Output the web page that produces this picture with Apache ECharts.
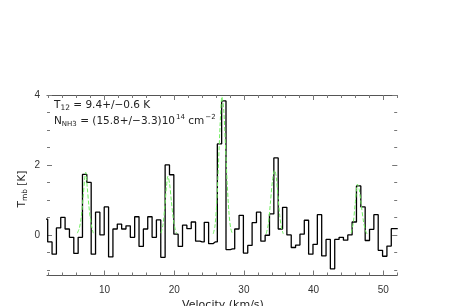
<!DOCTYPE html>
<html>
<head>
<meta charset="utf-8">
<script src="https://cdn.jsdelivr.net/npm/echarts@6/dist/echarts.min.js"></script>
<style>
html,body{margin:0;padding:0;background:#fff;}
#chart{width:463px;height:306px;}
</style>
</head>
<body>
<div id="chart"></div>
<script>
// Channel velocities (km/s) and antenna temperatures (K)
const velocity = [1.54,2.16,2.79,3.41,4.03,4.66,5.28,5.91,6.53,7.15,7.78,8.40,9.03,9.65,10.27,10.90,11.52,12.15,12.77,13.39,14.02,14.64,15.27,15.89,16.52,17.14,17.76,18.39,19.01,19.64,20.26,20.88,21.51,22.13,22.76,23.38,24.00,24.63,25.25,25.88,26.50,27.12,27.75,28.37,29.00,29.62,30.24,30.87,31.49,32.12,32.74,33.36,33.99,34.61,35.24,35.86,36.48,37.11,37.73,38.36,38.98,39.60,40.23,40.85,41.48,42.10,42.72,43.35,43.97,44.60,45.22,45.84,46.47,47.09,47.72,48.34,48.96,49.59,50.21,50.84,51.46,52.08];
const temperature = [0.45,-0.2,-0.55,0.2,0.5,0.17,-0.07,-0.53,-0.07,1.73,1.5,-0.55,0.65,0.0,0.8,-0.63,0.17,0.31,0.17,0.26,-0.07,0.52,-0.33,0.17,0.52,-0.07,0.43,-0.64,2.0,1.72,0.02,-0.33,0.28,0.18,0.37,-0.18,-0.2,0.36,-0.25,-0.2,2.6,3.83,-0.42,-0.4,0.17,0.56,-0.52,-0.3,0.35,0.65,-0.18,-0.01,0.6,2.2,0.17,0.79,0.0,-0.36,-0.29,0.02,0.42,-0.55,-0.27,0.58,-0.6,-0.13,-0.97,-0.13,-0.07,-0.15,0.0,0.37,1.4,0.8,-0.16,0.16,0.58,-0.44,-0.61,-0.32,0.18,0.18];

// Hyperfine fit (green dashed); null separates the groups
const fitVelocity = [6.1,6.4,6.67,6.96,7.15,7.3,7.53,7.75,7.95,8.2,8.4,null,
  18.1,18.4,18.65,18.9,19.1,19.35,19.6,19.85,20.1,20.35,null,
  25.6,25.85,26.1,26.35,26.6,26.85,27.1,27.35,27.6,27.85,28.1,28.35,null,
  33.2,33.5,33.8,34.1,34.4,34.65,34.9,35.15,35.4,35.65,null,
  45.4,45.7,46.0,46.3,46.55,46.85,47.15,47.45,47.7];
const fitTemperature = [0.05,0.2,0.52,1.14,1.6,1.79,1.35,0.85,0.5,0.2,0.05,null,
  0.05,0.3,0.8,1.4,1.68,1.45,0.95,0.5,0.2,0.04,null,
  0.03,0.25,0.9,2.0,3.2,3.95,3.6,2.6,1.5,0.65,0.2,0.03,null,
  0.03,0.3,0.9,1.55,1.85,1.65,1.1,0.55,0.2,0.03,null,
  0.05,0.35,0.95,1.45,1.3,0.85,0.4,0.12,0.02];

const xTickLabels = [10,20,30,40,50];
const xMinorTicks = [2,4,6,8,10,12,14,16,18,20,22,24,26,28,30,32,34,36,38,40,42,44,46,48,50,52];
const yTickLabels = [0,2,4];
const yMinorTicks = [-1,-0.5,0,0.5,1,1.5,2,2.5,3,3.5,4];

const X_MIN = 1.75, X_MAX = 52, Y_MIN = -1.16, Y_MAX = 4;

const histData = velocity.map((v,i)=>[v, temperature[i]]);
const fitData = fitVelocity.map((v,i)=> v===null ? [null,null] : [v, fitTemperature[i]]);

const axisGray = '#555';
const tickGray = '#777';
const labelFont = {fontFamily:'Liberation Sans', fontSize:10, color:'#333'};

function gridAxes(gi, showLine, tickVals, tickLen, withLabels){
  const xs = [
    {gridIndex:gi, type:'value', min:X_MIN, max:X_MAX, position:'bottom',
     axisLine:{show:showLine, onZero:false, lineStyle:{color:axisGray,width:1}},
     axisTick:{show:true, inside:true, length:tickLen, customValues:tickVals.x, lineStyle:{color:tickGray}},
     axisLabel: withLabels ? Object.assign({show:true, margin:10, customValues:xTickLabels}, labelFont) : {show:false},
     splitLine:{show:false}},
    {gridIndex:gi, type:'value', min:X_MIN, max:X_MAX, position:'top',
     axisLine:{show:showLine, onZero:false, lineStyle:{color:axisGray,width:1}},
     axisTick:{show:true, inside:true, length:tickLen, customValues:tickVals.x, lineStyle:{color:tickGray}},
     axisLabel:{show:false}, splitLine:{show:false}}
  ];
  const ys = [
    {gridIndex:gi, type:'value', min:Y_MIN, max:Y_MAX, position:'left',
     axisLine:{show:false, onZero:false},
     axisTick:{show:true, inside:true, length:tickLen, customValues:tickVals.y, lineStyle:{color:tickGray}},
     axisLabel: withLabels ? Object.assign({show:true, margin:7, customValues:yTickLabels}, labelFont) : {show:false},
     splitLine:{show:false}},
    {gridIndex:gi, type:'value', min:Y_MIN, max:Y_MAX, position:'right',
     axisLine:{show:false, onZero:false},
     axisTick:{show:true, inside:true, length:tickLen, customValues:tickVals.y, lineStyle:{color:tickGray}},
     axisLabel:{show:false}, splitLine:{show:false}}
  ];
  return {xs, ys};
}

const g0 = gridAxes(0, true, {x:xMinorTicks, y:yMinorTicks}, 3, true);
const g1 = gridAxes(1, false, {x:xTickLabels, y:yTickLabels}, 5, false);

const gridPos = {left:47, right:65.8, top:95, bottom:30.5};

const chart = echarts.init(document.getElementById('chart'), null, {renderer:'canvas'});
chart.setOption({
  animation:false,
  backgroundColor:'#fff',
  grid:[Object.assign({}, gridPos), Object.assign({}, gridPos)],
  xAxis: g0.xs.concat(g1.xs),
  yAxis: g0.ys.concat(g1.ys),
  series:[
    {type:'line', xAxisIndex:0, yAxisIndex:0, data:histData, step:'middle', symbol:'none',
     lineStyle:{color:'#000', width:1.3}, clip:true, z:2},
    {type:'line', xAxisIndex:0, yAxisIndex:0, data:fitData, symbol:'none', connectNulls:false, smooth:0.3,
     lineStyle:{color:'#70f060', width:1, type:[4,2]}, clip:true, z:3}
  ],
  graphic:[
    {type:'text', left:54, top:100, style:{
      text:'{a|T}{s|12}{a| = 9.4+/−0.6 K}',
      rich:{a:{fontFamily:'DejaVu Sans', fontSize:10.5, fill:'#222', lineHeight:14},
            s:{fontFamily:'DejaVu Sans', fontSize:7.5, fill:'#222', verticalAlign:'bottom', lineHeight:14, padding:[4,0,0,0]}}}},
    {type:'text', left:54, top:114, style:{
      text:'{a|N}{s|NH3}{a| = (15.8+/−3.3)10}{p|14}{a| cm}{p|−2}',
      rich:{a:{fontFamily:'DejaVu Sans', fontSize:10.5, fill:'#222', lineHeight:14},
            s:{fontFamily:'DejaVu Sans', fontSize:7, fill:'#222', verticalAlign:'bottom', lineHeight:14, padding:[4,0,0,0]},
            p:{fontFamily:'DejaVu Sans', fontSize:7, fill:'#222', verticalAlign:'top', lineHeight:14, padding:[0,0,5,1]}}}},
    {type:'text', x:22, y:189, rotation:Math.PI/2, style:{
      text:'{a|T}{s|mb}{a| [K]}', align:'center', verticalAlign:'middle',
      rich:{a:{fontFamily:'DejaVu Sans', fontSize:10.5, fill:'#222', lineHeight:14},
            s:{fontFamily:'DejaVu Sans', fontSize:7.5, fill:'#222', verticalAlign:'bottom', lineHeight:14, padding:[4,0,0,0]}}}},
    {type:'text', x:223, y:305, style:{
      text:'Velocity (km/s)', align:'center', verticalAlign:'middle',
      fontFamily:'DejaVu Sans', fontSize:11, fill:'#222'}}
  ]
});
</script>
</body>
</html>
